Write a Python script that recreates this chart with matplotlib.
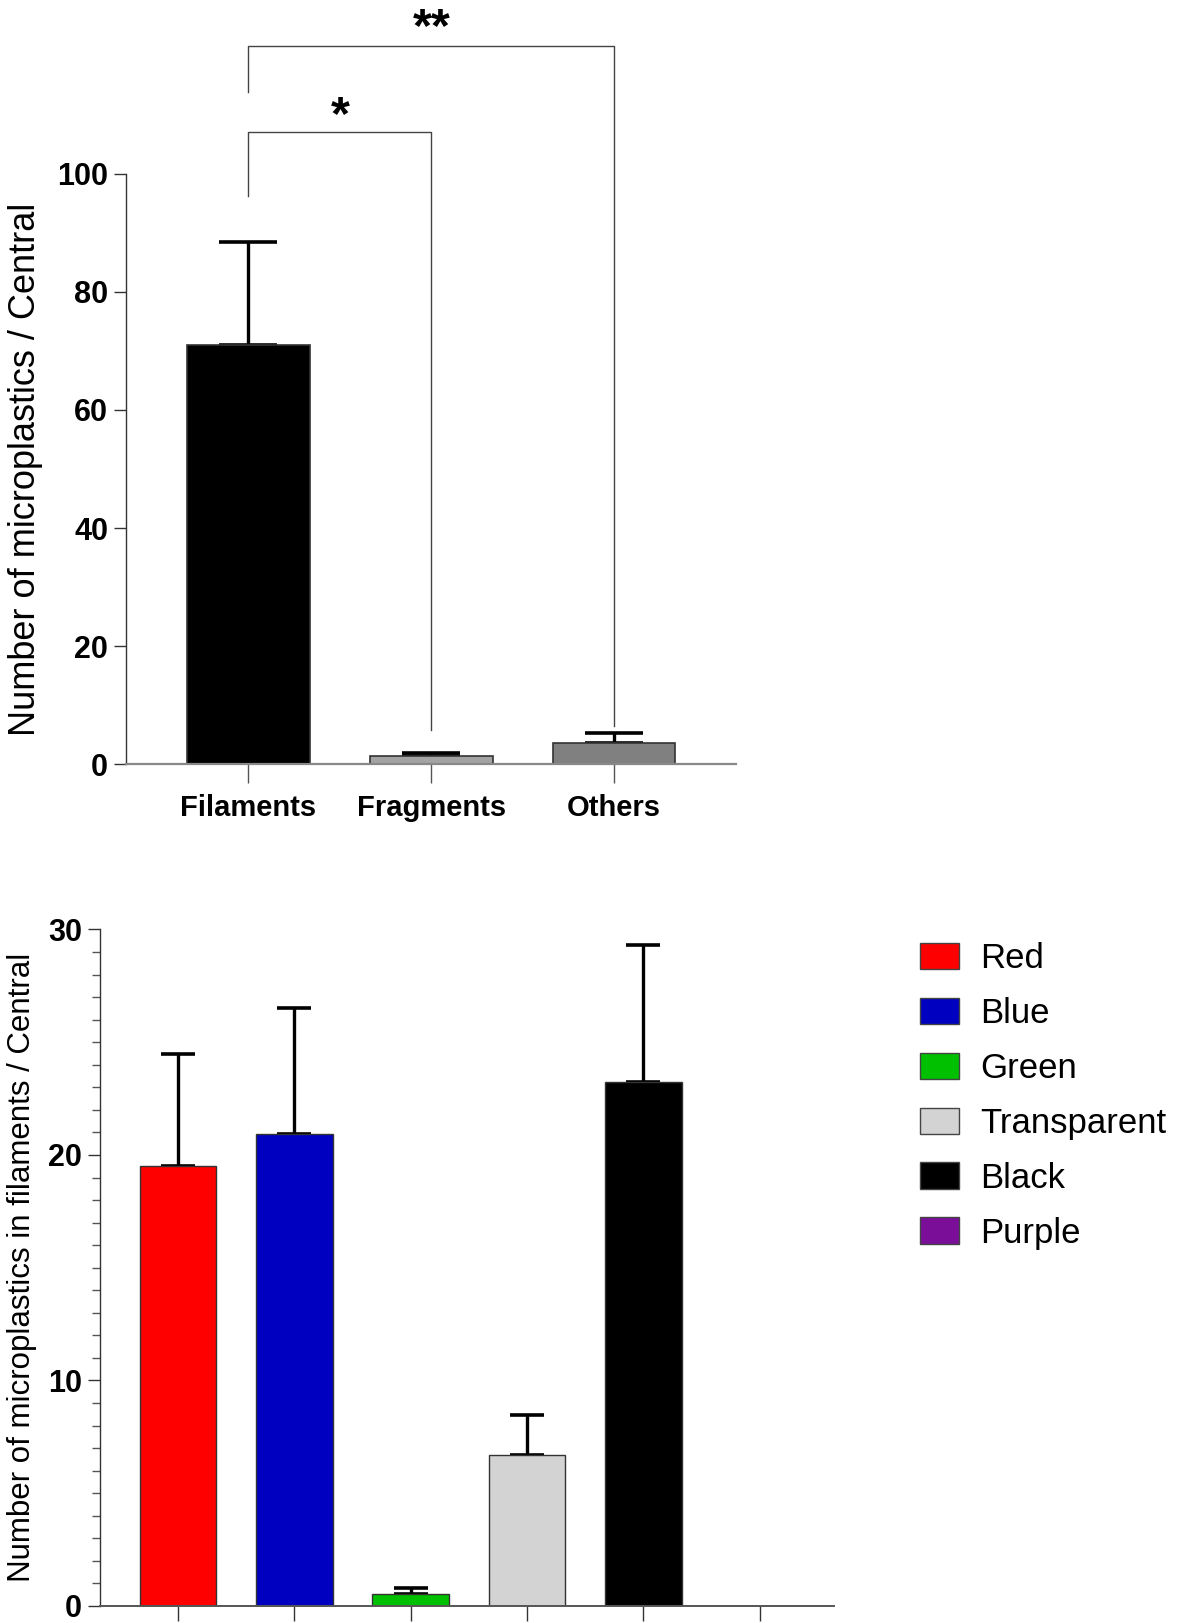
import numpy as np
import matplotlib.pyplot as plt
from matplotlib.patches import Patch
from matplotlib.ticker import MultipleLocator

plt.rcParams['font.family'] = ['Liberation Sans', 'DejaVu Sans']

# top panel: shape of particles
shapes = ["Filaments", "Fragments", "Others"]
shape_mean = [71.0, 1.4, 3.7]
shape_err = [17.4, 0.5, 1.7]
shape_colors = ["#000000", "#a3a3a3", "#808080"]

# significance brackets (left group, right group, top, left leg end, right leg end, label)
brackets = [(0, 1, 107.0, 96.2, 5.8, "*"),
            (0, 2, 121.6, 113.8, 6.5, "**")]

# bottom panel: colours of filaments
colours = ["Red", "Blue", "Green", "Transparent", "Black", "Purple"]
colour_mean = [19.5, 20.95, 0.55, 6.7, 23.25, 0.0]
colour_err = [5.0, 5.55, 0.23, 1.75, 6.05, 0.0]
colour_fill = ["#ff0000", "#0000c0", "#00c000", "#d3d3d3", "#000000", "#7b0e99"]

fig = plt.figure(figsize=(11.8, 16.23), dpi=100)

# ---- top chart ----
ax1 = fig.add_axes([0.107, 0.529, 0.517, 0.364])
x1 = np.arange(len(shapes))
ax1.bar(x1, shape_mean, width=0.67, color=shape_colors, edgecolor="#333333", linewidth=1.2, zorder=2)
ax1.errorbar(x1, shape_mean, yerr=[np.zeros(len(shapes)), shape_err], fmt="none",
             ecolor="black", elinewidth=2.4, capsize=21, capthick=2.6, zorder=1)
ax1.set_xlim(-0.668, 2.668)
ax1.set_ylim(0, 100)
ax1.set_yticks([0, 20, 40, 60, 80, 100])
ax1.set_xticks(x1)
ax1.set_xticklabels(shapes, fontsize=21, fontweight="bold")
for lab in ax1.get_yticklabels():
    lab.set_fontweight("bold")
    lab.set_fontsize(22)
ax1.tick_params(axis="y", length=9, width=1, color="#333333", pad=4)
ax1.tick_params(axis="x", length=14, width=1, color="#555555", pad=7)
ax1.spines["top"].set_visible(False)
ax1.spines["right"].set_visible(False)
ax1.spines["left"].set_color("#333333")
ax1.spines["left"].set_linewidth(1)
ax1.spines["bottom"].set_color("#888888")
ax1.spines["bottom"].set_linewidth(1.6)
ax1.set_ylabel("Number of microplastics / Central", fontsize=26, labelpad=10)

star_lift = {"*": 0.5, "**": 0.8}
for a, b, top, lleg, rleg, txt in brackets:
    ax1.plot([a, a, b, b], [lleg, top, top, rleg], color="#444444", lw=1,
             clip_on=False, zorder=0)
    ax1.text((a + b) / 2, top + star_lift[txt], txt, ha="center", va="baseline",
             fontsize=35, fontweight="bold")

# ---- bottom chart ----
ax2 = fig.add_axes([0.085, 0.0105, 0.622, 0.4168])
x2 = np.arange(len(colours))
ax2.bar(x2, colour_mean, width=0.66, color=colour_fill, edgecolor="#333333", linewidth=1.0, zorder=2)
has_err = np.array(colour_err) > 0
ax2.errorbar(x2[has_err], np.array(colour_mean)[has_err],
             yerr=[np.zeros(has_err.sum()), np.array(colour_err)[has_err]], fmt="none",
             ecolor="black", elinewidth=2.4, capsize=12.5, capthick=2.6, zorder=1)
ax2.set_xlim(-0.667, 5.64)
ax2.set_ylim(0, 30)
ax2.set_yticks([0, 10, 20, 30])
ax2.yaxis.set_minor_locator(MultipleLocator(1))
ax2.set_xticks(x2)
ax2.set_xticklabels([])
for lab in ax2.get_yticklabels():
    lab.set_fontweight("bold")
    lab.set_fontsize(22)
ax2.tick_params(axis="y", which="major", length=9, width=1, color="#333333", pad=4)
ax2.tick_params(axis="y", which="minor", length=6, width=1, color="#555555")
ax2.tick_params(axis="x", length=11, width=1, color="#333333")
ax2.spines["top"].set_visible(False)
ax2.spines["right"].set_visible(False)
ax2.spines["left"].set_color("#333333")
ax2.spines["left"].set_linewidth(1)
ax2.spines["bottom"].set_color("#555555")
ax2.spines["bottom"].set_linewidth(1.4)
ax2.set_ylabel("Number of microplastics in filaments / Central", fontsize=22.5, labelpad=8)

handles = [Patch(facecolor=c, edgecolor="#444444", linewidth=1) for c in colour_fill]
fig.legend(handles, colours, loc="upper left", bbox_to_anchor=(0.768, 0.428),
           frameon=False, fontsize=25, handlelength=1.13, handleheight=0.8,
           handletextpad=0.6, labelspacing=0.63, borderaxespad=0)

fig.savefig("out.png", dpi=100)
